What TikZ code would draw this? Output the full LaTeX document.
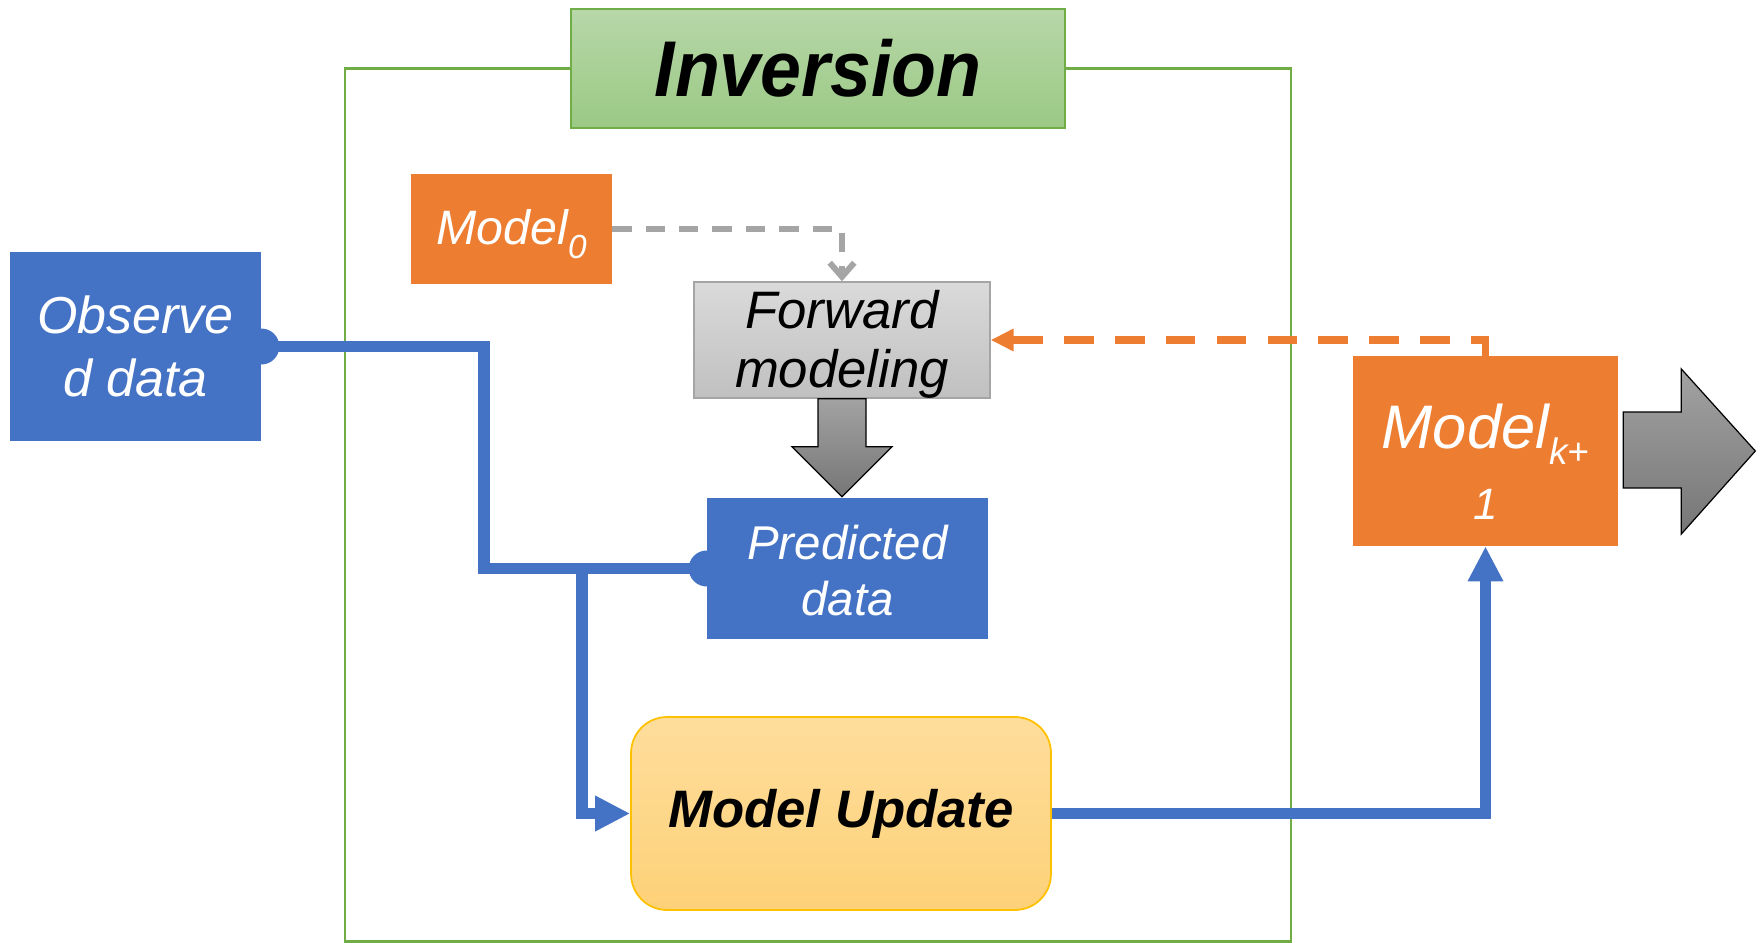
\documentclass[tikz,border=0pt]{standalone}
\usepackage{fontspec}
\setmainfont{Liberation Sans}
\usetikzlibrary{arrows.meta,calc}
\definecolor{cblue}{HTML}{4472C4}
\definecolor{corange}{HTML}{ED7D31}
\definecolor{cgreen}{HTML}{70AD47}
\definecolor{cgold}{HTML}{FFC000}
\definecolor{cgrayln}{HTML}{A5A5A5}
\definecolor{invtop}{RGB}{183,215,168}
\definecolor{invbot}{RGB}{155,201,133}
\definecolor{fwdtop}{RGB}{218,218,218}
\definecolor{fwdbot}{RGB}{192,192,192}
\definecolor{mutop}{RGB}{254,221,156}
\definecolor{mubot}{RGB}{253,209,120}
\definecolor{arrtop}{RGB}{162,162,162}
\definecolor{arrbot}{RGB}{118,118,118}
\begin{document}
\begin{tikzpicture}[x=0.02cm,y=-0.02cm,
  box/.style={rectangle,inner sep=0pt,align=center},
  bluebox/.style={box,fill=cblue,text=white},
  orangebox/.style={box,fill=corange,text=white},
  bl/.style={draw=cblue,line width=6.3pt},
  bltip/.style={-{Triangle[length=20pt,width=19pt]}},
  od/.style={draw=corange,line width=4pt,dash pattern=on 17pt off 12pt,-{Triangle[length=13pt,width=12pt]}},
  gd/.style={draw=cgrayln,line width=3.4pt,dash pattern=on 11pt off 8pt,-{Straight Barb[length=8pt,width=14pt,line width=3.4pt]}},
  blockarrow/.style={draw=black,line width=0.7pt,top color=arrtop,bottom color=arrbot}
]
\useasboundingbox (0,0) rectangle (1762,943);
% frame
\draw[cgreen,line width=1.3pt] (345,68.5) rectangle (1291,941.5);
% title
\node[box,minimum width=9.88cm,minimum height=2.38cm,draw=cgreen,line width=0.8pt,
      top color=invtop,bottom color=invbot,font=\fontsize{45}{50}\selectfont\bfseries\itshape]
      (inv) at (818,68.5) {\scalebox{0.93}[1]{Inversion}};
% nodes
\node[bluebox,minimum width=5.02cm,minimum height=3.78cm,font=\fontsize{29.6}{36}\selectfont\itshape]
      (obs) at (135.5,346.5) {Observe\\d data};
\node[orangebox,minimum width=4.02cm,minimum height=2.2cm,font=\fontsize{27.5}{32}\selectfont\itshape]
      (m0) at (511.5,229) {\rule{0pt}{26.2pt}Model\raisebox{-8pt}{\fontsize{19}{19}\selectfont 0}};
\node[box,minimum width=5.92cm,minimum height=2.32cm,draw=cgrayln,line width=0.8pt,
      top color=fwdtop,bottom color=fwdbot,font=\fontsize{30}{33.6}\selectfont\itshape]
      (fwd) at (842,340) {\rule{0pt}{26.2pt}Forward\\modeling};
\node[bluebox,minimum width=5.62cm,minimum height=2.82cm,font=\fontsize{27}{32}\selectfont\itshape]
      (pred) at (847.5,568.5) {\rule{0pt}{22pt}Predicted\\data};
\node[box,minimum width=8.4cm,minimum height=3.86cm,rounded corners=0.72cm,draw=cgold,line width=1pt,
      top color=mutop,bottom color=mubot,font=\fontsize{30}{34}\selectfont\bfseries\itshape]
      (mu) at (841,813.5) {Model Update};
\node[orangebox,minimum width=5.3cm,minimum height=3.8cm,font=\fontsize{35}{40.4}\selectfont\itshape]
      (mk) at (1485.5,451) {\rule{0pt}{38.1pt}Model\raisebox{-9pt}{\fontsize{21}{21}\selectfont k+}\\{\fontsize{25}{40.4}\selectfont 1}};
% junction coordinates
\coordinate (j1) at (484,0);
\coordinate (j2) at (582,0);
% blue connectors
\draw[bl] (obs.east) -- (obs.east -| j1) -- (j1 |- pred.west) -- (pred.west);
\draw[bl,bltip] (pred.west) -- (j2 |- pred.west) -- (j2 |- mu.west) -- (mu.west);
\fill[cblue] (obs.east) circle[radius=0.36cm];
\fill[cblue] (pred.west) circle[radius=0.36cm];
\draw[bl,bltip] (mu.east) -| (mk.south);
% dashed connectors
\draw[od] (mk.north) |- (fwd.east);
\draw[gd] (m0.east) -| (fwd.north);
% block arrows
\draw[blockarrow] ($(fwd.south)+(-24,0)$) -- ($(fwd.south)+(-24,48)$) -- ($(fwd.south)+(-50,48)$)
   -- ($(fwd.south)+(0,98)$) -- ($(fwd.south)+(50,48)$) -- ($(fwd.south)+(24,48)$) -- ($(fwd.south)+(24,0)$) -- cycle;
\draw[blockarrow] ($(mk.east)+(5,-39)$) -- ($(mk.east)+(63,-39)$) -- ($(mk.east)+(63,-82)$)
   -- ($(mk.east)+(137,0)$) -- ($(mk.east)+(63,83)$) -- ($(mk.east)+(63,37)$) -- ($(mk.east)+(5,37)$) -- cycle;
\end{tikzpicture}
\end{document}
